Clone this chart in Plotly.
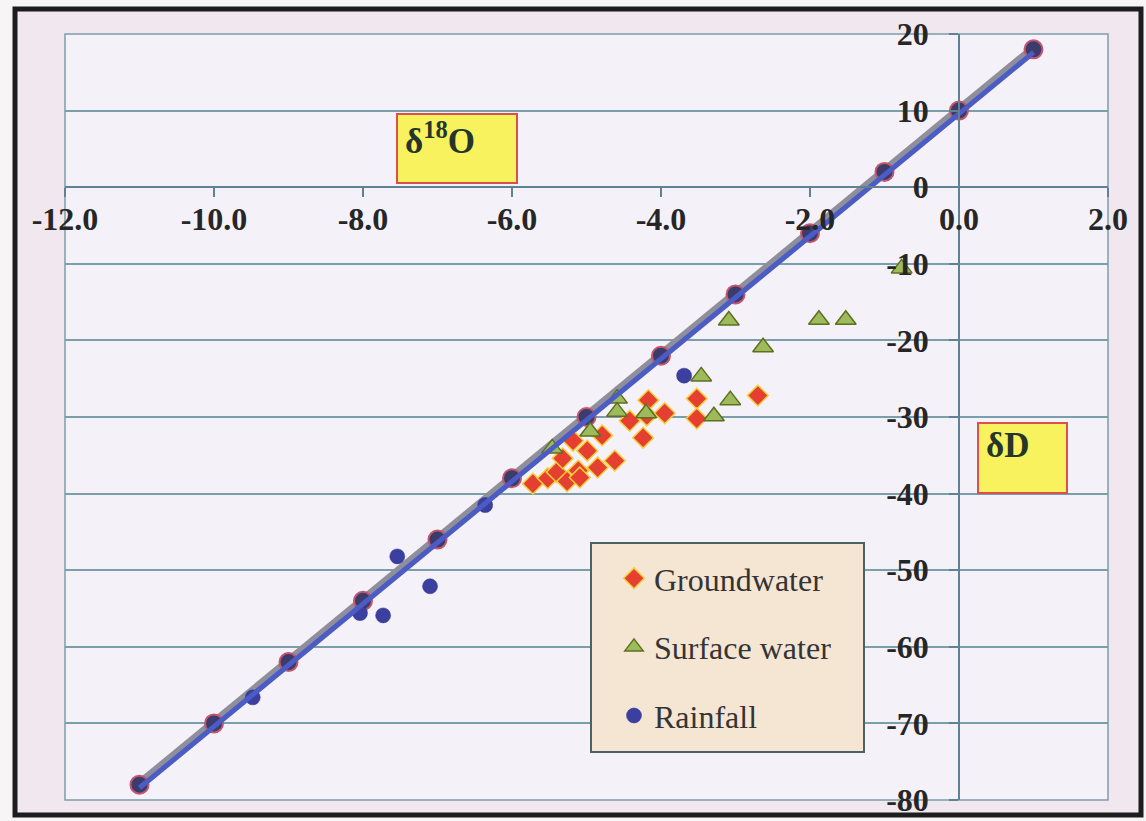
import plotly.graph_objects as go

# ---------------- data ----------------
gmwl_o18 = [-11, -10, -9, -8, -7, -6, -5, -4, -3, -2, -1, 0, 1]
gmwl_dD = [-78, -70, -62, -54, -46, -38, -30, -22, -14, -6, 2, 10, 18]

gw_o18 = [-5.72, -5.52, -5.40, -5.32, -5.26, -5.18, -5.11, -5.09, -4.99, -4.85,
          -4.79, -4.62, -4.42, -4.24, -4.17, -4.19, -3.95, -3.52, -3.52, -2.70]
gw_dD = [-38.7, -38.0, -37.2, -35.4, -38.4, -33.1, -37.0, -37.9, -34.4, -36.6,
         -32.4, -35.7, -30.5, -32.7, -27.8, -29.8, -29.5, -27.6, -30.2, -27.2]

sw_o18 = [-5.46, -4.95, -4.59, -4.59, -4.20, -3.46, -3.29, -3.07, -3.09, -2.63,
          -1.88, -1.52, -0.77]
sw_dD = [-34.1, -31.9, -27.6, -29.3, -29.5, -24.7, -29.9, -27.8, -17.4, -20.9,
         -17.3, -17.3, -10.6]

rain_o18 = [-3.69, -6.36, -7.54, -7.10, -8.04, -7.73, -9.48]
rain_dD = [-24.6, -41.5, -48.2, -52.1, -55.6, -55.9, -66.6]

x_tick_vals = [-12, -10, -8, -6, -4, -2, 0, 2]
x_tick_text = ["-12.0", "-10.0", "-8.0", "-6.0", "-4.0", "-2.0", "0.0", "2.0"]
y_tick_vals = [-80, -70, -60, -50, -40, -30, -20, -10, 0, 10, 20]
y_tick_text = ["-80", "-70", "-60", "-50", "-40", "-30", "-20", "-10", "0", "10", "20"]

# ---------------- styling ----------------
SERIF = "Liberation Serif, Times New Roman, serif"
GRID = "#7b9eab"
AXIS = "#5f8292"
W, H = 1146, 821
ML, MR, MT, MB = 65, 38, 34, 21
PW, PH = W - ML - MR, H - MT - MB


def px(xp):
    return (xp - ML) / PW


def py(yp):
    return (H - MB - yp) / PH


fig = go.Figure()

# GMWL line: grey body with blue lower edge, then markers
fig.add_trace(go.Scatter(x=gmwl_o18, y=gmwl_dD, mode="lines",
                         line=dict(color="#8f8f9c", width=10),
                         showlegend=False, hoverinfo="skip"))
fig.add_trace(go.Scatter(x=gmwl_o18, y=gmwl_dD, mode="lines", yaxis="y2",
                         line=dict(color="#4b5cc6", width=5),
                         showlegend=False, hoverinfo="skip"))
fig.add_trace(go.Scatter(x=gmwl_o18, y=gmwl_dD, mode="markers",
                         marker=dict(symbol="circle", size=18, color="#3b3c6c",
                                     line=dict(color="#c4566e", width=2)),
                         showlegend=False))

fig.add_trace(go.Scatter(x=gw_o18, y=gw_dD, mode="markers", name="Groundwater",
                         legendgroup="g1",
                         marker=dict(symbol="diamond", size=16, color="#e43f31",
                                     line=dict(color="#f5cf3c", width=1.5))))
fig.add_trace(go.Scatter(x=sw_o18, y=sw_dD, mode="markers", name="Surface water",
                         legendgroup="g2",
                         marker=dict(symbol="triangle-up", size=18, color="#9dbb5b",
                                     line=dict(color="#5e6f22", width=1.5))))
fig.add_trace(go.Scatter(x=rain_o18, y=rain_dD, mode="markers", name="Rainfall",
                         legendgroup="g3",
                         marker=dict(symbol="circle", size=15, color="#3b3f9f",
                                     line=dict(color="#30328a", width=0.5))))

shapes = [
    # outer dark frame with pinkish inside
    dict(type="rect", xref="paper", yref="paper", layer="below",
         x0=px(15), x1=px(1141), y0=py(815), y1=py(9),
         line=dict(color="#1d1d1f", width=5), fillcolor="#f1e7ee"),
    # plot area background + border
    dict(type="rect", xref="paper", yref="paper", layer="below",
         x0=0, x1=1, y0=0, y1=1, line=dict(color=GRID, width=1.5),
         fillcolor="#f5f1f8"),
    # legend box
    dict(type="rect", xref="paper", yref="paper", layer="above",
         x0=px(591), x1=px(864), y0=py(752), y1=py(543),
         line=dict(color="#4b6262", width=2), fillcolor="#f5e5d3"),
    # label boxes
    dict(type="rect", xref="paper", yref="paper", layer="above",
         x0=px(397), x1=px(517), y0=py(183), y1=py(114),
         line=dict(color="#dd4e4e", width=2), fillcolor="#f7f25e"),
    dict(type="rect", xref="paper", yref="paper", layer="above",
         x0=px(978), x1=px(1067), y0=py(493), y1=py(423),
         line=dict(color="#dd4e4e", width=2), fillcolor="#f7f25e"),
]

annotations = [
    dict(xref="paper", yref="paper", x=px(403), y=py(114), xanchor="left", yanchor="top",
         text="δ<sup>18</sup>O", showarrow=False,
         font=dict(family=SERIF, size=35, color="#26352a", weight="bold")),
    dict(xref="paper", yref="paper", x=px(984), y=py(424), xanchor="left", yanchor="top",
         text="δD", showarrow=False,
         font=dict(family=SERIF, size=35, color="#26352a", weight="bold")),
]

tickfont = dict(family=SERIF, size=32, color="#262626", weight="bold")

fig.update_layout(
    width=W, height=H,
    margin=dict(l=ML, r=MR, t=MT, b=MB),
    paper_bgcolor="#f8f5f7",
    plot_bgcolor="#f5f1f8",
    showlegend=True,
    legend=dict(x=px(614), y=py(551), xanchor="left", yanchor="top",
                bgcolor="rgba(0,0,0,0)", borderwidth=0,
                font=dict(family=SERIF, size=32, color="#343434"),
                tracegroupgap=24, traceorder="grouped", itemsizing="trace"),
    xaxis=dict(range=[-12, 2], anchor="free", position=0.8, side="bottom",
               tickvals=x_tick_vals, ticktext=x_tick_text, tickfont=tickfont,
               showgrid=False, zeroline=False, showline=True, linecolor=AXIS,
               linewidth=1.5, ticks="outside", ticklen=9, tickwidth=1.5,
               tickcolor=AXIS, ticklabelstandoff=-5, automargin=False),
    yaxis=dict(range=[-80, 20], anchor="free", position=12 / 14, side="left",
               tickvals=y_tick_vals, ticktext=y_tick_text, tickfont=tickfont,
               showgrid=True, gridcolor=GRID, gridwidth=1.5, zeroline=False,
               showline=True, linecolor=AXIS, linewidth=1.5, ticks="outside",
               ticklen=9, tickwidth=1.5, tickcolor=AXIS, ticklabelstandoff=14,
               automargin=False),
    yaxis2=dict(range=[-79.6, 20.4], overlaying="y", visible=False,
                showgrid=False, zeroline=False),
    shapes=shapes,
    annotations=annotations,
)

fig.write_html("out.html",
               config={"displayModeBar": False},
               post_script="document.body.style.margin='0';"
                           "document.body.style.overflow='hidden';")
